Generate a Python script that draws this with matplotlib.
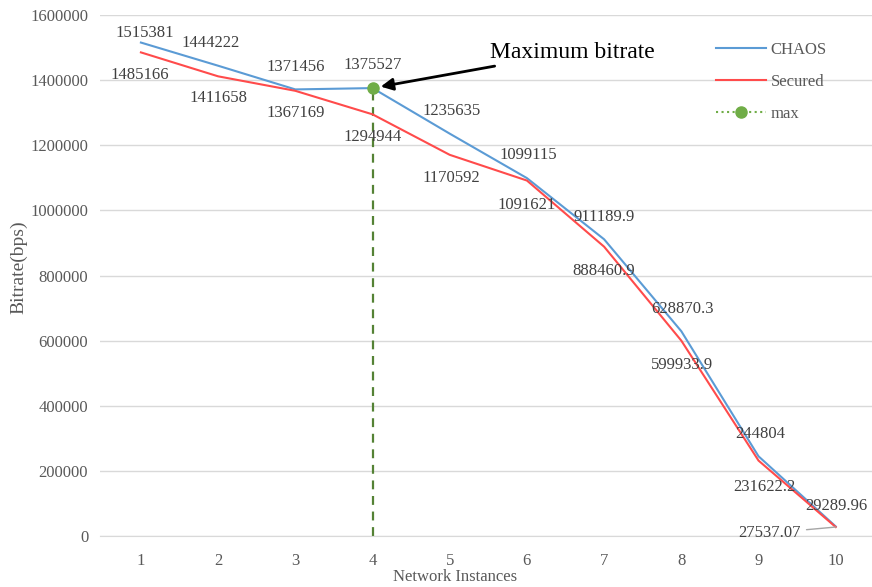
import matplotlib
matplotlib.use("Agg")
import matplotlib.pyplot as plt

# ---- data ----
instances = [1, 2, 3, 4, 5, 6, 7, 8, 9, 10]
chaos = [1515381, 1444222, 1371456, 1375527, 1235635, 1099115, 911189.9, 628870.3, 244804, 29289.96]
secured = [1485166, 1411658, 1367169, 1294944, 1170592, 1091621, 888460.9, 599933.9, 231622.2, 27537.07]
chaos_labels = ["1515381", "1444222", "1371456", "1375527", "1235635", "1099115",
                "911189.9", "628870.3", "244804", "29289.96"]
secured_labels = ["1485166", "1411658", "1367169", "1294944", "1170592", "1091621",
                  "888460.9", "599933.9", "231622.2", "27537.07"]
max_x = 4
max_y = 1375527
yticks = [0, 200000, 400000, 600000, 800000, 1000000, 1200000, 1400000, 1600000]

# ---- layout (label offsets in pixels) ----
chaos_off = [(4, 10), (-8, 23), (0, 22), (0, 23), (2, 23), (1, 23), (0, 22), (1, 22), (2, 22), (1, 20)]
sec_off = [(-1, -23), (0, -22), (0, -22), (0, -23), (2, -23), (0, -24), (0, -24), (1, -24), (6, -26), (-66, -6)]

plt.rcParams['font.family'] = ['Liberation Serif', 'DejaVu Serif']

fig = plt.figure(figsize=(8.72, 5.87), dpi=100)
ax = fig.add_axes([100 / 872, (587 - 536) / 587, 772 / 872, 521 / 587])

blue = '#5B9BD5'
red = '#FF4B4B'
green = '#70AD47'
dgreen = '#548235'
lab_col = '#404040'
tick_col = '#595959'

ax.plot(instances, chaos, color=blue, lw=1.5, label='CHAOS', zorder=3)
ax.plot(instances, secured, color=red, lw=1.5, label='Secured', zorder=3)
ax.vlines(max_x, 0, max_y, colors=dgreen, linestyles=(0, (4, 3)), lw=1.6, zorder=2)
ax.plot([max_x], [max_y], marker='o', ms=8, color=green, linestyle=':', lw=1.5, label='max', zorder=4)

ax.set_xlim(0.47, 10.47)
ax.set_ylim(0, 1600000)
ax.set_xticks(instances)
ax.set_yticks(yticks)
ax.set_yticklabels([str(v) for v in yticks])
ax.tick_params(axis='both', length=0, colors=tick_col, labelsize=12)
ax.tick_params(axis='y', pad=8.5)
ax.tick_params(axis='x', pad=12)
ax.grid(axis='y', color='#d9d9d9', lw=1)
ax.set_axisbelow(True)
for s in ['left', 'right', 'top']:
    ax.spines[s].set_visible(False)
ax.spines['bottom'].set_color('#d9d9d9')

for i, (x, y) in enumerate(zip(instances, chaos)):
    dx, dy = chaos_off[i]
    ax.annotate(chaos_labels[i], (x, y), xytext=(dx, dy), textcoords='offset pixels',
                ha='center', va='center', fontsize=12, color=lab_col, zorder=5)
for i, (x, y) in enumerate(zip(instances, secured)):
    dx, dy = sec_off[i]
    if i == len(instances) - 1:
        ax.annotate(secured_labels[i], (x, y), xytext=(dx, dy), textcoords='offset pixels',
                    ha='center', va='center', fontsize=12, color=lab_col, zorder=5,
                    arrowprops=dict(arrowstyle='-', color='#a6a6a6', lw=1, shrinkA=2, shrinkB=0))
    else:
        ax.annotate(secured_labels[i], (x, y), xytext=(dx, dy), textcoords='offset pixels',
                    ha='center', va='center', fontsize=12, color=lab_col, zorder=5)

ax.annotate('Maximum bitrate', (max_x, max_y), xytext=(200, 36), textcoords='offset pixels',
            ha='center', va='center', fontsize=17, color='black', zorder=6,
            arrowprops=dict(arrowstyle='-|>', color='black', lw=2, mutation_scale=18,
                            shrinkA=3, shrinkB=6))

leg = ax.legend(loc='upper left', bbox_to_anchor=(0.779, 0.977), frameon=False,
                fontsize=12, handlelength=2.95, labelspacing=0.95, handletextpad=0.3,
                labelcolor=tick_col)

fig.text(455 / 872, 1 - 577 / 587, 'Network Instances', ha='center', va='center',
         fontsize=12, color=tick_col)
fig.text(19 / 872, 1 - 267 / 587, 'Bitrate(bps)', ha='center', va='center',
         rotation=90, fontsize=14, color=tick_col)

fig.savefig('out.png', dpi=100)
